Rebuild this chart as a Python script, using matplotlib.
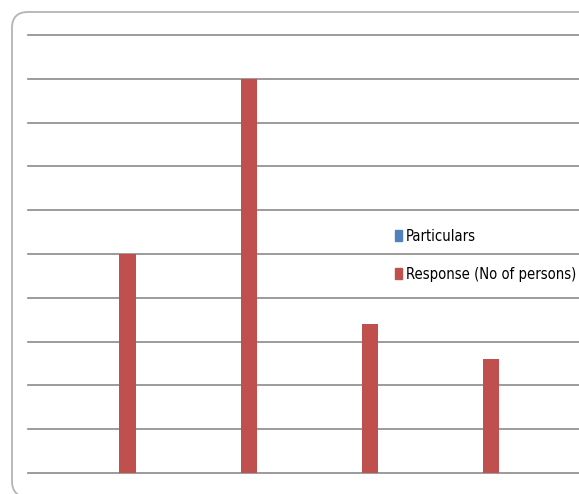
import matplotlib.pyplot as plt
import numpy as np
from matplotlib.patches import FancyBboxPatch, Patch
from matplotlib.transforms import IdentityTransform

# ~~~~~~~~~~~~~~~~~~~~~~~~~~~~~~~~~~~~~~~~~~~~~~~~~~~~~~~~~~~~~~~~~~~~~~~~~~~~~

categories = ['1', '2', '3', '4']
particulars = [0, 0, 0, 0]
responses = [50, 90, 34, 26]
legend_labels = ['Particulars', 'Response (No of persons)']

W, H = 579, 494

plt.rcParams['font.family'] = ['DejaVu Sans']
plt.rcParams['font.stretch'] = 'condensed'

fig = plt.figure(figsize=(W / 100, H / 100), dpi=100)
fig.patch.set_facecolor('white')

# rounded outer border (cropped at right/bottom like the original), pixel coords
border = FancyBboxPatch((12, -3), 700, H - 12 + 3,
                        boxstyle='round,pad=0,rounding_size=16',
                        transform=IdentityTransform(), facecolor='none',
                        edgecolor='#b4b4b4', linewidth=1.3)
fig.patches.append(border)

ax = fig.add_axes([28 / W, (H - 473) / H, (W - 28) / W, (473 - 35) / H])

x = np.arange(len(categories))
bw = 0.14
ax.bar(x - bw, particulars, width=bw, color='#4F81BD', label=legend_labels[0])
ax.bar(x, responses, width=bw, color='#C0504D', label=legend_labels[1], zorder=3)

ax.set_ylim(0, 100)
ax.set_yticks(np.arange(0, 101, 10))
ax.set_xlim(-0.826, 3.727)
ax.grid(True, axis='y', color='#8a8a8a', linewidth=1.2)
for gl in ax.get_ygridlines():
    gl.set_clip_on(False)
ax.set_axisbelow(True)
ax.tick_params(left=False, bottom=False, labelleft=False, labelbottom=False)
for s in ax.spines.values():
    s.set_visible(False)

handles = [Patch(color='#4F81BD'), Patch(color='#C0504D')]
fig.legend(handles, legend_labels, loc='upper left',
           bbox_to_anchor=(389 / W, (H - 223) / H), frameon=False,
           fontsize=10.6, handlelength=0.5, handleheight=0.8,
           handletextpad=0.25, labelspacing=1.55, borderaxespad=0)

fig.savefig('out.png', dpi=100)
